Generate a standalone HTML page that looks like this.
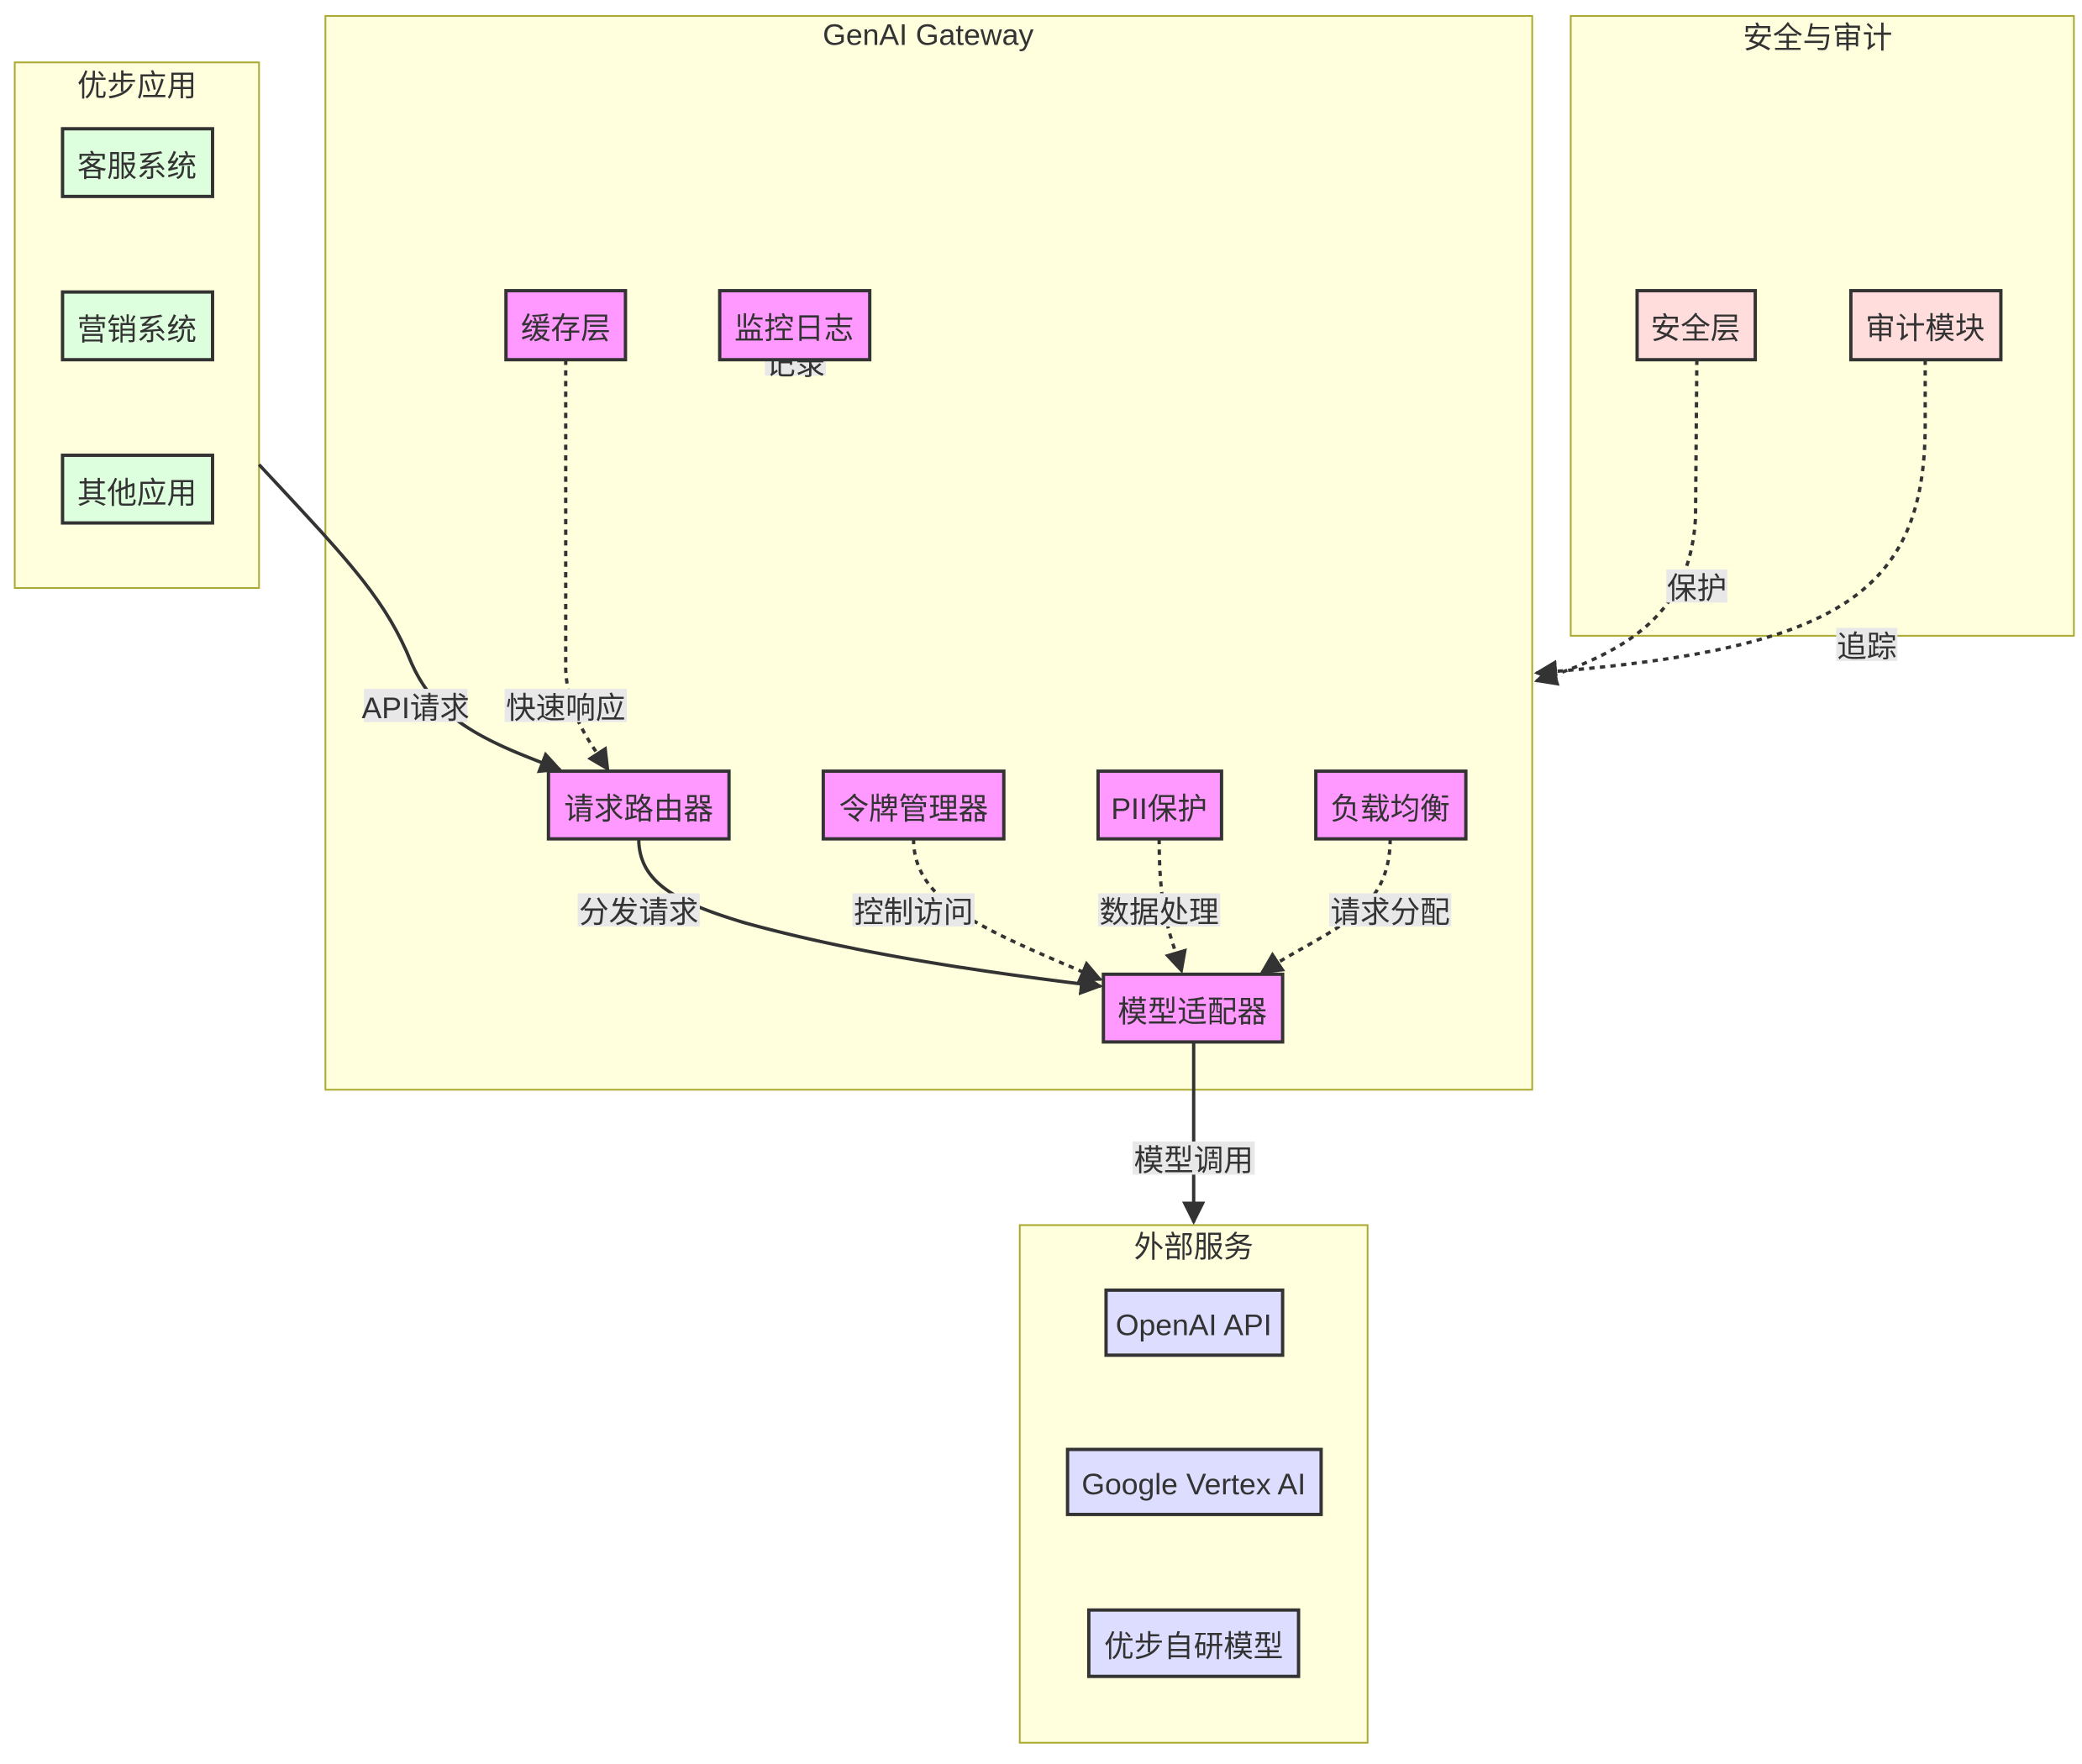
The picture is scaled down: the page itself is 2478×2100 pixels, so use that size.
<!DOCTYPE html>
<html><head><meta charset="utf-8"><style>
html,body{margin:0;padding:0;background:#fff;}
svg{display:block;}
text{font-family:"Liberation Sans","Noto Sans CJK SC",sans-serif;fill:#333;font-size:22.5px;}
.c{fill:#ffffde;stroke:#aaaa33;stroke-width:1.3;}
.n{stroke:#333;stroke-width:2.5;}
.g{fill:#ddffdd}.p{fill:#ff99ff}.s{fill:#ffdddd}.e{fill:#ddddff}
.l{fill:none;stroke:#333;stroke-width:2.5;}
.d{stroke-dasharray:4,4;}
.lb{fill:#e8e8e8;}
</style></head><body>
<svg width="2478" height="2100" viewBox="0 0 1568 1329" xmlns="http://www.w3.org/2000/svg">
<defs><marker id="a" viewBox="0 0 10 10" refX="9" refY="5" markerWidth="7" markerHeight="7" orient="auto"><path d="M0,0L10,5L0,10z" fill="#333"/></marker></defs>
<rect class="c" x="11" y="47" width="184" height="396"/>
<rect class="c" x="245" y="12" width="909" height="809"/>
<rect class="c" x="1183" y="12" width="379" height="467"/>
<rect class="c" x="768" y="923" width="262" height="390"/>
<g text-anchor="middle">
<text x="103" y="72">优步应用</text>
<text x="699" y="34">GenAI Gateway</text>
<text x="1369" y="36">安全与审计</text>
<text x="899" y="947">外部服务</text>
</g>
<path class="l" d="M195,350 C260,420 290,450 310,500 C330,545 370,560 422,580" marker-end="url(#a)"/>
<path class="l d" d="M426,271 L426,505 C428,540 445,560 458,580" marker-end="url(#a)"/>
<path class="l" d="M481,632 C481,665 510,680 560,695 C650,720 760,735 829,743" marker-end="url(#a)"/>
<path class="l d" d="M688,632 C688,680 740,700 829,738" marker-end="url(#a)"/>
<path class="l d" d="M873,632 C873,690 882,705 890,732" marker-end="url(#a)"/>
<path class="l d" d="M1047,632 C1047,690 1000,700 950,733" marker-end="url(#a)"/>
<path class="l" d="M899,785 L899,921" marker-end="url(#a)"/>
<path class="l d" d="M1278,271 L1277,390 C1273,460 1230,490 1157,513" marker-end="url(#a)"/>
<path class="l d" d="M1450,271 L1450,320 C1450,450 1380,490 1157,507" marker-end="url(#a)"/>
<g text-anchor="middle">
<rect class="lb" x="576" y="261" width="46" height="22"/><text x="599" y="282">记录</text>
<rect class="lb" x="274" y="519" width="78" height="25"/><text x="313" y="541">API请求</text>
<rect class="lb" x="380" y="519" width="92" height="25"/><text x="426" y="541">快速响应</text>
<rect class="lb" x="435" y="673" width="92" height="25"/><text x="481" y="695">分发请求</text>
<rect class="lb" x="642" y="673" width="92" height="25"/><text x="688" y="695">控制访问</text>
<rect class="lb" x="827" y="673" width="92" height="25"/><text x="873" y="695">数据处理</text>
<rect class="lb" x="1001" y="673" width="92" height="25"/><text x="1047" y="695">请求分配</text>
<rect class="lb" x="853" y="860" width="92" height="25"/><text x="899" y="882">模型调用</text>
<rect class="lb" x="1255" y="429" width="46" height="25"/><text x="1278" y="451">保护</text>
<rect class="lb" x="1383" y="473" width="46" height="25"/><text x="1406" y="495">追踪</text>
</g>
<g>
<rect class="n g" x="47" y="97" width="113" height="51"/>
<rect class="n g" x="47" y="220" width="113" height="51"/>
<rect class="n g" x="47" y="343" width="113" height="51"/>
<rect class="n p" x="381" y="219" width="90" height="52"/>
<rect class="n p" x="542" y="219" width="113" height="52"/>
<rect class="n p" x="413" y="581" width="136" height="51"/>
<rect class="n p" x="620" y="581" width="136" height="51"/>
<rect class="n p" x="827" y="581" width="93" height="51"/>
<rect class="n p" x="991" y="581" width="113" height="51"/>
<rect class="n p" x="831" y="734" width="135" height="51"/>
<rect class="n s" x="1233" y="219" width="89" height="52"/>
<rect class="n s" x="1394" y="219" width="113" height="52"/>
<rect class="n e" x="833" y="972" width="133" height="49"/>
<rect class="n e" x="804" y="1092" width="191" height="49"/>
<rect class="n e" x="820" y="1213" width="158" height="50"/>
</g>
<g text-anchor="middle">
<text x="103" y="133">客服系统</text>
<text x="103" y="256">营销系统</text>
<text x="103" y="379">其他应用</text>
<text x="426" y="255">缓存层</text>
<text x="598" y="255">监控日志</text>
<text x="481" y="617">请求路由器</text>
<text x="688" y="617">令牌管理器</text>
<text x="873" y="617">PII保护</text>
<text x="1047" y="617">负载均衡</text>
<text x="898" y="770">模型适配器</text>
<text x="1277" y="255">安全层</text>
<text x="1450" y="255">审计模块</text>
<text x="899" y="1006">OpenAI API</text>
<text x="899" y="1126">Google Vertex AI</text>
<text x="899" y="1248">优步自研模型</text>
</g>
</svg>
</body></html>
